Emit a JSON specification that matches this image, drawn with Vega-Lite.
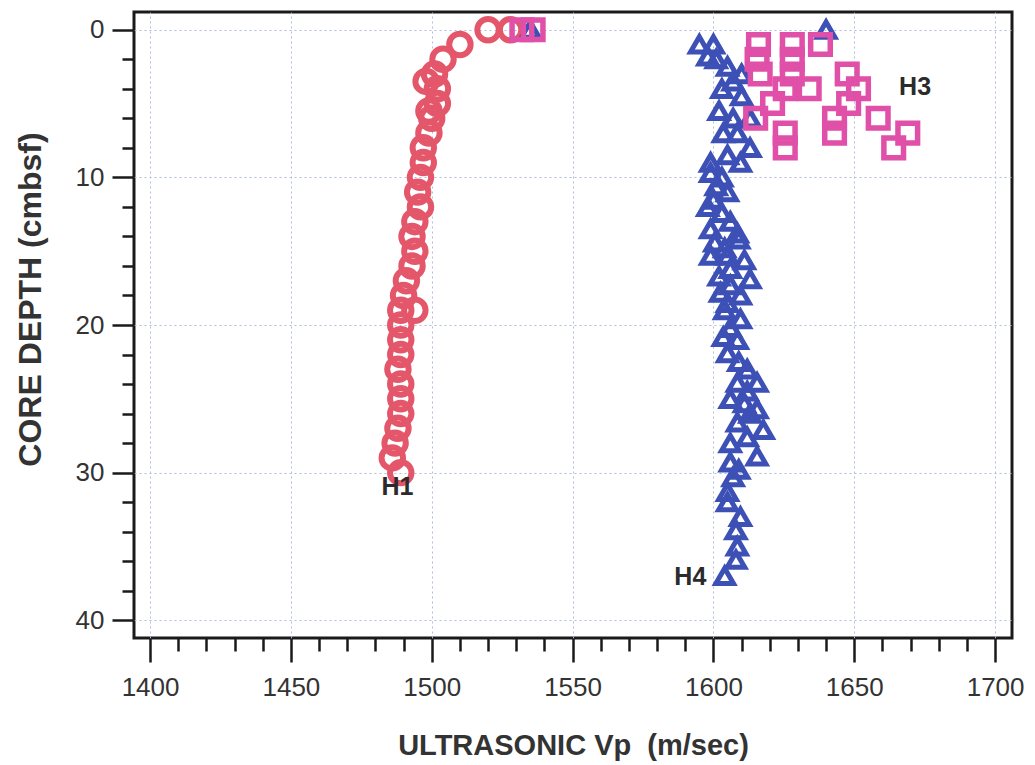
{
  "$schema": "https://vega.github.io/schema/vega-lite/v6.json",
  "autosize": "none",
  "width": 878,
  "height": 626,
  "padding": {"left": 134, "top": 12, "right": 23, "bottom": 127},
  "background": "white",
  "config": {
    "view": {"stroke": "#1a1a1a", "strokeWidth": 3},
    "axis": {
      "domain": false,
      "tickColor": "#1a1a1a",
      "tickWidth": 2.5,
      "gridColor": "#aebfdc",
      "gridDash": [2, 3],
      "gridWidth": 1,
      "labelFont": "Liberation Sans, Arial",
      "labelFontSize": 26,
      "labelColor": "#333333",
      "labelOverlap": false,
      "titleFont": "Liberation Sans, Arial",
      "titleFontWeight": "bold",
      "titleColor": "#333333"
    }
  },
  "datasets": {
    "pts": [
      {"s": "H1", "d": 0, "v": 1520}, {"s": "H1", "d": 0, "v": 1528}, {"s": "H1", "d": 1, "v": 1510},
      {"s": "H1", "d": 2, "v": 1504}, {"s": "H1", "d": 3, "v": 1501}, {"s": "H1", "d": 3.5, "v": 1498},
      {"s": "H1", "d": 4, "v": 1502}, {"s": "H1", "d": 5, "v": 1502}, {"s": "H1", "d": 5.5, "v": 1499},
      {"s": "H1", "d": 6, "v": 1500}, {"s": "H1", "d": 7, "v": 1499}, {"s": "H1", "d": 8, "v": 1497},
      {"s": "H1", "d": 9, "v": 1497}, {"s": "H1", "d": 10, "v": 1496}, {"s": "H1", "d": 11, "v": 1495},
      {"s": "H1", "d": 12, "v": 1496}, {"s": "H1", "d": 13, "v": 1494}, {"s": "H1", "d": 14, "v": 1493},
      {"s": "H1", "d": 15, "v": 1494}, {"s": "H1", "d": 16, "v": 1493}, {"s": "H1", "d": 17, "v": 1491},
      {"s": "H1", "d": 18, "v": 1490}, {"s": "H1", "d": 19, "v": 1494}, {"s": "H1", "d": 19, "v": 1489},
      {"s": "H1", "d": 20, "v": 1489}, {"s": "H1", "d": 21, "v": 1489}, {"s": "H1", "d": 22, "v": 1489},
      {"s": "H1", "d": 23, "v": 1488}, {"s": "H1", "d": 24, "v": 1489}, {"s": "H1", "d": 25, "v": 1489},
      {"s": "H1", "d": 26, "v": 1489}, {"s": "H1", "d": 27, "v": 1488}, {"s": "H1", "d": 28, "v": 1487},
      {"s": "H1", "d": 29, "v": 1486}, {"s": "H1", "d": 30, "v": 1489},
      {"s": "H4", "d": 0, "v": 1535}, {"s": "H4", "d": 0, "v": 1640},
      {"s": "H4", "d": 1, "v": 1595}, {"s": "H4", "d": 1, "v": 1600}, {"s": "H4", "d": 2, "v": 1601},
      {"s": "H4", "d": 1.8, "v": 1598}, {"s": "H4", "d": 2.5, "v": 1605}, {"s": "H4", "d": 3, "v": 1610},
      {"s": "H4", "d": 3.5, "v": 1607}, {"s": "H4", "d": 4, "v": 1603}, {"s": "H4", "d": 4.5, "v": 1610},
      {"s": "H4", "d": 5.5, "v": 1602}, {"s": "H4", "d": 6, "v": 1607}, {"s": "H4", "d": 6, "v": 1613},
      {"s": "H4", "d": 7, "v": 1603.5}, {"s": "H4", "d": 7, "v": 1608.5}, {"s": "H4", "d": 8, "v": 1613},
      {"s": "H4", "d": 8.5, "v": 1605}, {"s": "H4", "d": 9, "v": 1609.6}, {"s": "H4", "d": 9, "v": 1599},
      {"s": "H4", "d": 9.7, "v": 1599}, {"s": "H4", "d": 10, "v": 1603}, {"s": "H4", "d": 10.6, "v": 1601},
      {"s": "H4", "d": 11, "v": 1605}, {"s": "H4", "d": 11.5, "v": 1600}, {"s": "H4", "d": 12, "v": 1598},
      {"s": "H4", "d": 12.4, "v": 1603}, {"s": "H4", "d": 13, "v": 1606}, {"s": "H4", "d": 13.5, "v": 1599},
      {"s": "H4", "d": 13.8, "v": 1608.5}, {"s": "H4", "d": 14.4, "v": 1600.5}, {"s": "H4", "d": 14.2, "v": 1609},
      {"s": "H4", "d": 14.8, "v": 1604}, {"s": "H4", "d": 15.3, "v": 1599}, {"s": "H4", "d": 15.3, "v": 1605},
      {"s": "H4", "d": 15.6, "v": 1611}, {"s": "H4", "d": 16.2, "v": 1606}, {"s": "H4", "d": 16.7, "v": 1602},
      {"s": "H4", "d": 16.9, "v": 1613}, {"s": "H4", "d": 17.3, "v": 1606}, {"s": "H4", "d": 17.8, "v": 1602.5},
      {"s": "H4", "d": 18, "v": 1609.6}, {"s": "H4", "d": 18.5, "v": 1605}, {"s": "H4", "d": 19, "v": 1604},
      {"s": "H4", "d": 19.6, "v": 1609.6}, {"s": "H4", "d": 20.2, "v": 1606}, {"s": "H4", "d": 20.8, "v": 1603.5},
      {"s": "H4", "d": 21, "v": 1608.5}, {"s": "H4", "d": 21.9, "v": 1605}, {"s": "H4", "d": 22.5, "v": 1609},
      {"s": "H4", "d": 23, "v": 1612}, {"s": "H4", "d": 23.9, "v": 1615.5}, {"s": "H4", "d": 23.9, "v": 1608.5},
      {"s": "H4", "d": 24.5, "v": 1612}, {"s": "H4", "d": 25, "v": 1606}, {"s": "H4", "d": 25.3, "v": 1611},
      {"s": "H4", "d": 25.7, "v": 1615.5}, {"s": "H4", "d": 26, "v": 1613}, {"s": "H4", "d": 26.6, "v": 1608.5},
      {"s": "H4", "d": 27.1, "v": 1617.7}, {"s": "H4", "d": 27.6, "v": 1612}, {"s": "H4", "d": 28, "v": 1606},
      {"s": "H4", "d": 28.9, "v": 1615.5}, {"s": "H4", "d": 29.3, "v": 1606}, {"s": "H4", "d": 29.8, "v": 1609},
      {"s": "H4", "d": 30.3, "v": 1607}, {"s": "H4", "d": 31.3, "v": 1605}, {"s": "H4", "d": 32, "v": 1605},
      {"s": "H4", "d": 33, "v": 1609.6}, {"s": "H4", "d": 33.9, "v": 1608}, {"s": "H4", "d": 35, "v": 1608.5},
      {"s": "H4", "d": 35.9, "v": 1608}, {"s": "H4", "d": 37, "v": 1604},
      {"s": "H3", "d": 0, "v": 1532}, {"s": "H3", "d": 0, "v": 1536},
      {"s": "H3", "d": 1, "v": 1616}, {"s": "H3", "d": 1, "v": 1628}, {"s": "H3", "d": 1, "v": 1638},
      {"s": "H3", "d": 2, "v": 1615.5}, {"s": "H3", "d": 2, "v": 1628},
      {"s": "H3", "d": 3, "v": 1616.6}, {"s": "H3", "d": 3, "v": 1628}, {"s": "H3", "d": 3, "v": 1647.5},
      {"s": "H3", "d": 4, "v": 1625.5}, {"s": "H3", "d": 4, "v": 1634}, {"s": "H3", "d": 4, "v": 1651.5},
      {"s": "H3", "d": 5, "v": 1621}, {"s": "H3", "d": 5, "v": 1648},
      {"s": "H3", "d": 6, "v": 1615}, {"s": "H3", "d": 6, "v": 1643}, {"s": "H3", "d": 6, "v": 1658.5},
      {"s": "H3", "d": 7, "v": 1625.5}, {"s": "H3", "d": 7, "v": 1643}, {"s": "H3", "d": 7, "v": 1669},
      {"s": "H3", "d": 8, "v": 1625.5}, {"s": "H3", "d": 8, "v": 1664}
    ],
    "labels": [
      {"t": "H1", "d": 31.0, "v": 1487.8},
      {"t": "H3", "d": 3.86, "v": 1671.6},
      {"t": "H4", "d": 37.1, "v": 1591.8}
    ]
  },
  "layer": [
    {
      "data": {"name": "pts"},
      "mark": {"type": "point", "filled": false, "opacity": 1},
      "encoding": {
        "x": {
          "field": "v", "type": "quantitative",
          "scale": {"domain": [1394.3, 1706], "zero": false, "nice": false},
          "axis": {
            "title": "ULTRASONIC Vp\u00a0 (m/sec)",
            "titleFontSize": 29,
            "values": [1400,1410,1420,1430,1440,1450,1460,1470,1480,1490,1500,1510,1520,1530,1540,1550,1560,1570,1580,1590,1600,1610,1620,1630,1640,1650,1660,1670,1680,1690,1700],
            "tickCount": 200,
            "format": "d",
            "labelOverlap": false,
            "labelExpr": "datum.value % 50 === 0 ? datum.label : ''",
            "tickSize": {"condition": {"test": "datum.value % 50 === 0", "value": 24}, "value": 13},
            "gridOpacity": {"condition": {"test": "datum.value % 50 === 0", "value": 1}, "value": 0},
            "labelPadding": 12,
            "titleY": 107,
            "titleBaseline": "middle"
          }
        },
        "y": {
          "field": "d", "type": "quantitative",
          "scale": {"domain": [-1.2, 41.2], "reverse": true, "zero": false, "nice": false},
          "axis": {
            "title": "CORE DEPTH (cmbsf)",
            "titleFontSize": 32,
            "values": [0,2,4,6,8,10,12,14,16,18,20,22,24,26,28,30,32,34,36,38,40],
            "tickCount": 200,
            "format": "d",
            "labelOverlap": false,
            "labelExpr": "datum.value % 10 === 0 ? datum.label : ''",
            "tickSize": {"condition": {"test": "datum.value % 10 === 0", "value": 22}, "value": 12},
            "gridOpacity": {"condition": {"test": "datum.value % 10 === 0", "value": 1}, "value": 0},
            "labelPadding": 8,
            "titleX": -104,
            "titleY": 287,
            "titleBaseline": "middle",
            "titleAlign": "center",
            "titleAngle": -90
          }
        },
        "shape": {
          "field": "s", "type": "nominal",
          "scale": {"domain": ["H1", "H3", "H4"], "range": ["circle", "square", "triangle-up"]},
          "legend": null
        },
        "color": {
          "field": "s", "type": "nominal",
          "scale": {"domain": ["H1", "H3", "H4"], "range": ["#e4566a", "#e04fa8", "#3d50b6"]},
          "legend": null
        },
        "size": {
          "field": "s", "type": "nominal",
          "scale": {"domain": ["H1", "H3", "H4"], "range": [460, 310, 440]},
          "legend": null
        },
        "strokeWidth": {
          "field": "s", "type": "nominal",
          "scale": {"domain": ["H1", "H3", "H4"], "range": [6, 5, 5.5]},
          "legend": null
        }
      }
    },
    {
      "data": {"name": "labels"},
      "mark": {"type": "text", "font": "Liberation Sans, Arial", "fontWeight": "bold", "fontSize": 25, "color": "#2b2b2b", "align": "center", "baseline": "middle"},
      "encoding": {
        "x": {"field": "v", "type": "quantitative"},
        "y": {"field": "d", "type": "quantitative"},
        "text": {"field": "t", "type": "nominal"}
      }
    }
  ]
}
